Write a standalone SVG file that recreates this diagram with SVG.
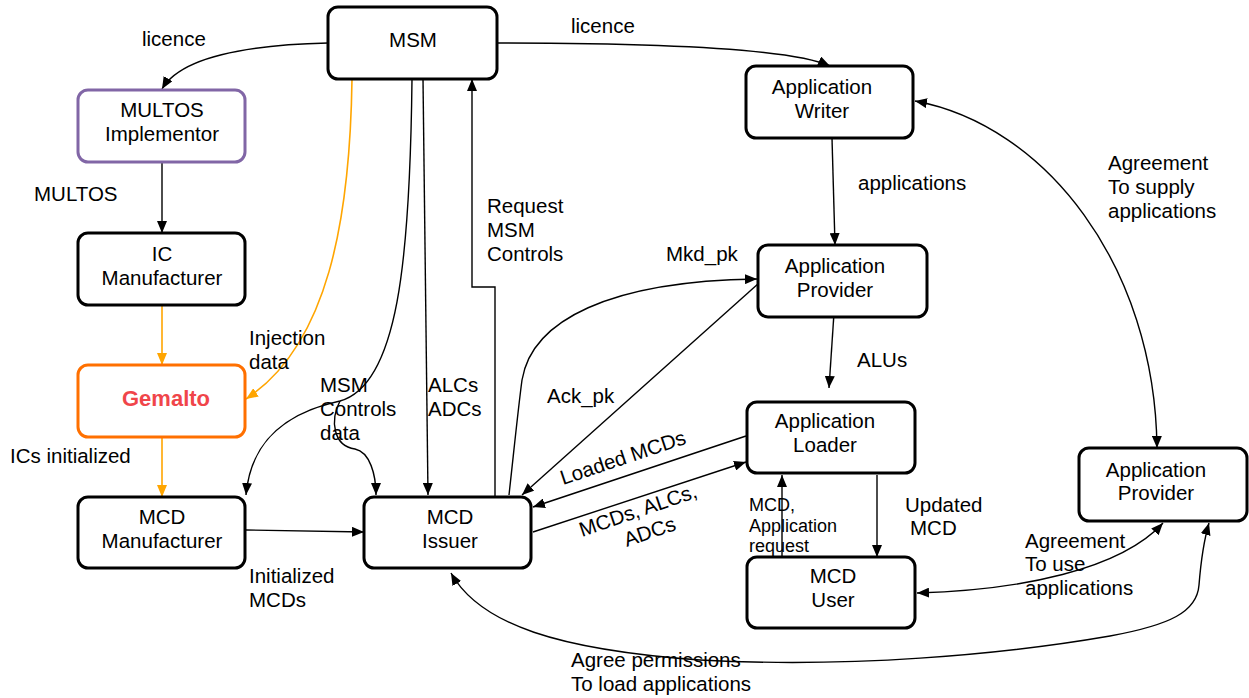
<svg xmlns="http://www.w3.org/2000/svg" width="1249" height="698" viewBox="0 0 1249 698">
<defs>
<style>
.node{fill:#fff;stroke:#000;stroke-width:3}
.purple{stroke:#8166A6}
.gem{stroke:#FF7000}
text{font-family:"Liberation Sans",Arial,sans-serif;font-size:20.5px;fill:#000}
.nt{text-anchor:middle}
.gt{font-weight:bold;font-size:22px;fill:#F0454A}
.sm{font-size:18px}
.c{fill:none;stroke:#000;stroke-width:1.4}
.o{fill:none;stroke:#FFA500;stroke-width:1.6}
.e{marker-end:url(#ah)}
.oe{marker-end:url(#aho)}
.b{marker-start:url(#ah);marker-end:url(#ah)}
</style>
<marker id="ah" viewBox="0 0 12 10" refX="12" refY="5" markerWidth="12" markerHeight="10" markerUnits="userSpaceOnUse" orient="auto-start-reverse"><path d="M0,0 L12,5 L0,10 z" fill="#000"/></marker>
<marker id="aho" viewBox="0 0 12 10" refX="12" refY="5" markerWidth="12" markerHeight="10" markerUnits="userSpaceOnUse" orient="auto"><path d="M0,0 L12,5 L0,10 z" fill="#FFA500"/></marker>
</defs>
<rect width="1249" height="698" fill="#fff"/>

<g id="connectors">
<path class="c e" d="M328,43 C240,45 180,58 162,89"/>
<path class="c e" d="M162,162 L162,233"/>
<path class="o oe" d="M162,305 L162,365"/>
<path class="o oe" d="M162,437 L162,497"/>
<path class="o oe" d="M352,79 C350,220 328,345 246,399"/>
<path class="c e" d="M412,79 C410,260 398,385 340,401 C275,415 250,450 246,495"/>
<path class="c e" d="M340,401 C330,420 333,446 355,449 C370,452 376,475 376,495"/>
<path class="c e" d="M423,79 L428,495"/>
<path class="c e" d="M495,497 L495,287 L472,287 L472,79"/>
<path class="c e" d="M497,43 C650,43 790,48 830,66"/>
<path class="c e" d="M832,138 L835,245"/>
<path class="c e" d="M834,313 L829,388"/>
<path class="c e" d="M509,495 C514,450 518,410 522,380 C532,320 610,281 757,279"/>
<path class="c e" d="M759,283 L522,495"/>
<path class="c e" d="M746,436 L533,507"/>
<path class="c e" d="M533,532 L746,462"/>
<path class="c e" d="M877,475 L877,557"/>
<path class="c e" d="M782,557 L782,475"/>
<path class="c b" d="M915,101 C1045,125 1155,265 1157,448"/>
<path class="c b" d="M917,593 C1020,590 1120,570 1163,523"/>
<path class="c b" d="M451,573 C480,625 560,650 700,660 C850,668 1000,655 1110,636 C1170,625 1197,612 1199,585 C1201,560 1204,540 1209,523"/>
<path class="c e" d="M246,530 L364,532"/>
</g>

<g id="labels">
<text x="142" y="46">licence</text>
<text x="34" y="201">MULTOS</text>
<text x="249" y="345">Injection</text>
<text x="249" y="369">data</text>
<text x="320" y="392">MSM</text>
<text x="320" y="416">Controls</text>
<text x="320" y="440">data</text>
<text x="428" y="392">ALCs</text>
<text x="428" y="416">ADCs</text>
<text x="10" y="463">ICs initialized</text>
<text x="249" y="583">Initialized</text>
<text x="249" y="607">MCDs</text>
<text x="487" y="213">Request</text>
<text x="487" y="237">MSM</text>
<text x="487" y="261">Controls</text>
<text x="571" y="33">licence</text>
<text x="858" y="190">applications</text>
<text x="666" y="261">Mkd_pk</text>
<text x="857" y="367">ALUs</text>
<text x="547" y="403">Ack_pk</text>
<text transform="translate(563,485) rotate(-18.5)">Loaded MCDs</text>
<text transform="translate(582,537) rotate(-19)">MCDs, ALCs,<tspan x="39" y="24">ADCs</tspan></text>
<text x="905" y="512">Updated</text>
<text x="910" y="535">MCD</text>
<text class="sm" x="749" y="511">MCD,</text>
<text class="sm" x="749" y="532">Application</text>
<text class="sm" x="749" y="552">request</text>
<text x="1108" y="170">Agreement</text>
<text x="1108" y="194">To supply</text>
<text x="1108" y="218">applications</text>
<text x="1025" y="548">Agreement</text>
<text x="1025" y="571">To use</text>
<text x="1025" y="595">applications</text>
<text x="571" y="667">Agree permissions</text>
<text x="571" y="691">To load applications</text>
</g>

<g id="msm"><rect class="node" x="328" y="7" width="169" height="72" rx="10"/><text class="nt" x="413" y="47">MSM</text></g>
<g id="multos-implementor"><rect class="node purple" x="78" y="90" width="167" height="72" rx="10"/><text class="nt" x="162" y="117">MULTOS</text><text class="nt" x="162" y="141">Implementor</text></g>
<g id="ic-manufacturer"><rect class="node" x="78" y="233" width="167" height="72" rx="10"/><text class="nt" x="162" y="261">IC</text><text class="nt" x="162" y="285">Manufacturer</text></g>
<g id="gemalto"><rect class="node gem" x="78" y="365" width="167" height="72" rx="10"/><text class="nt gt" x="166" y="406">Gemalto</text></g>
<g id="mcd-manufacturer"><rect class="node" x="78" y="497" width="167" height="71" rx="10"/><text class="nt" x="162" y="524">MCD</text><text class="nt" x="162" y="548">Manufacturer</text></g>
<g id="mcd-issuer"><rect class="node" x="364" y="497" width="167" height="71" rx="10"/><text class="nt" x="450" y="524">MCD</text><text class="nt" x="450" y="548">Issuer</text></g>
<g id="application-writer"><rect class="node" x="746" y="66" width="167" height="72" rx="10"/><text class="nt" x="822" y="94">Application</text><text class="nt" x="822" y="118">Writer</text></g>
<g id="application-provider-1"><rect class="node" x="758" y="245" width="169" height="72" rx="10"/><text class="nt" x="835" y="273">Application</text><text class="nt" x="835" y="297">Provider</text></g>
<g id="application-loader"><rect class="node" x="747" y="402" width="168" height="71" rx="10"/><text class="nt" x="825" y="428">Application</text><text class="nt" x="825" y="452">Loader</text></g>
<g id="mcd-user"><rect class="node" x="747" y="557" width="168" height="71" rx="10"/><text class="nt" x="833" y="583">MCD</text><text class="nt" x="833" y="607">User</text></g>
<g id="application-provider-2"><rect class="node" x="1079" y="448" width="168" height="73" rx="10"/><text class="nt" x="1156" y="477">Application</text><text class="nt" x="1156" y="500">Provider</text></g>
</svg>
